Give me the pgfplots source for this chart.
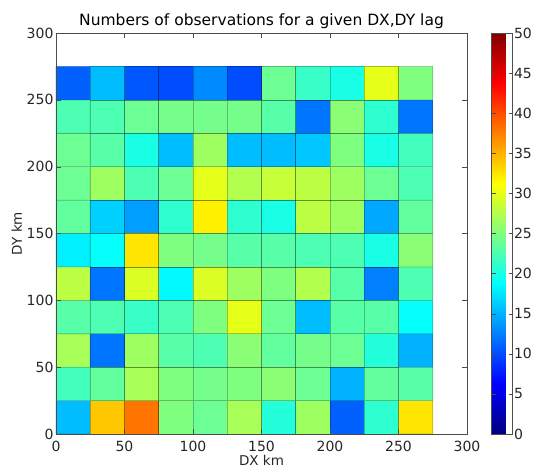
\documentclass[border=0pt]{standalone}
\usepackage{fontspec}
\setmainfont{DejaVu Sans}
\usepackage{pgfplots}
\pgfplotsset{compat=1.18}
\begin{document}
\begin{tikzpicture}
\useasboundingbox (-56pt,-34pt) rectangle (481pt,434pt);
\begin{axis}[
  scale only axis,
  width=411pt, height=401pt,
  xmin=0, xmax=300, ymin=0, ymax=300,
  xtick={0,50,...,300}, ytick={0,50,...,300},
  tick align=inside,
  major tick length=5pt,
  axis line style={black!70},
  tick style={black!70},
  /pgf/number format/assume math mode=true,
  ticklabel style={font=\fontsize{14}{15}\selectfont, text=black!85},
  xticklabel style={yshift=-4pt},
  yticklabel style={xshift=1pt},
  xlabel={DX km}, ylabel={DY km},
  label style={font=\fontsize{13.5}{15}\selectfont, text=black!85},
  xlabel style={yshift=4pt},
  ylabel style={yshift=-2pt},
  title={Numbers of observations for a given DX,DY lag},
  title style={font=\fontsize{15.5}{17}\selectfont, yshift=-5pt},
  colormap/jet,
  point meta min=0, point meta max=50,
  colorbar,
  colorbar style={
    at={(parent axis.north east)}, anchor=north west, xshift=16pt,
    width=21pt,
    ytick={0,5,...,50},
    tick align=inside,
    major tick length=4pt,
    axis line style={black!70},
    tick style={black!70},
    /pgf/number format/assume math mode=true,
    yticklabel style={font=\fontsize{14}{15}\selectfont, text=black!85, xshift=-2pt},
  },
  axis on top,
]
\addplot[matrix plot*, mesh/cols=11, point meta=explicit, draw=black, draw opacity=0.25, line width=0.6pt] table[meta=c] {
x y c
12.5 12.5 15.5
37.5 12.5 34
62.5 12.5 38
87.5 12.5 25
112.5 12.5 24
137.5 12.5 27
162.5 12.5 20.5
187.5 12.5 26.5
212.5 12.5 11
237.5 12.5 21
262.5 12.5 32.5
12.5 37.5 22
37.5 37.5 23.5
62.5 37.5 27
87.5 37.5 25
112.5 37.5 24.5
137.5 37.5 25
162.5 37.5 25.5
187.5 37.5 24
212.5 37.5 15
237.5 37.5 23.5
262.5 37.5 23
12.5 62.5 27
37.5 62.5 12
62.5 62.5 26.5
87.5 62.5 23
112.5 62.5 22.5
137.5 62.5 25.5
162.5 62.5 23.5
187.5 62.5 24.5
212.5 62.5 24
237.5 62.5 20.5
262.5 62.5 15
12.5 87.5 23
37.5 87.5 22.5
62.5 87.5 21.5
87.5 87.5 22.5
112.5 87.5 25
137.5 87.5 30
162.5 87.5 24
187.5 87.5 15.5
212.5 87.5 23
237.5 87.5 23
262.5 87.5 19
12.5 112.5 28
37.5 112.5 12
62.5 112.5 29.5
87.5 112.5 18.5
112.5 112.5 29.5
137.5 112.5 26.5
162.5 112.5 25
187.5 112.5 27.5
212.5 112.5 23
237.5 112.5 12.5
262.5 112.5 22.5
12.5 137.5 18
37.5 137.5 19
62.5 137.5 32.5
87.5 137.5 25
112.5 137.5 24.5
137.5 137.5 23
162.5 137.5 23
187.5 137.5 22.5
212.5 137.5 22.5
237.5 137.5 20
262.5 137.5 25.5
12.5 162.5 23.5
37.5 162.5 16.5
62.5 162.5 14
87.5 162.5 21
112.5 162.5 32
137.5 162.5 21
162.5 162.5 20
187.5 162.5 28
212.5 162.5 26.5
237.5 162.5 14.5
262.5 162.5 23.5
12.5 187.5 24
37.5 187.5 26.5
62.5 187.5 22.5
87.5 187.5 24
112.5 187.5 30
137.5 187.5 27.5
162.5 187.5 28.5
187.5 187.5 28
212.5 187.5 26.5
237.5 187.5 24
262.5 187.5 22.5
12.5 212.5 24
37.5 212.5 23
62.5 212.5 20
87.5 212.5 15.5
112.5 212.5 26.5
137.5 212.5 15.5
162.5 212.5 15.5
187.5 212.5 16
212.5 212.5 25
237.5 212.5 20
262.5 212.5 22
12.5 237.5 22.5
37.5 237.5 22.5
62.5 237.5 24
87.5 237.5 24.5
112.5 237.5 24.5
137.5 237.5 24.5
162.5 237.5 23
187.5 237.5 12
212.5 237.5 25.5
237.5 237.5 21
262.5 237.5 12
12.5 262.5 11
37.5 262.5 15.5
62.5 262.5 10.5
87.5 262.5 10
112.5 262.5 13
137.5 262.5 10
162.5 262.5 24
187.5 262.5 21.5
212.5 262.5 20
237.5 262.5 30
262.5 262.5 25
};
\end{axis}
\end{tikzpicture}
\end{document}
